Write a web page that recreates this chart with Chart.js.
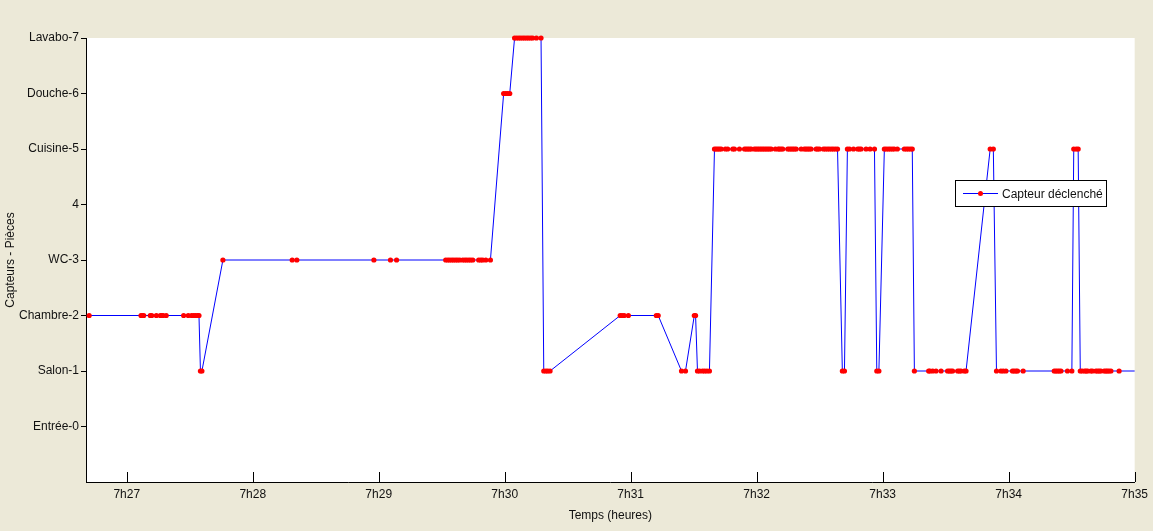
<!DOCTYPE html>
<html><head><meta charset="utf-8">
<script src="https://cdn.jsdelivr.net/npm/chart.js@4"></script>
<style>html,body{margin:0;padding:0;background:#ECE9D8;overflow:hidden}</style>
</head><body>
<canvas id="c" width="1153" height="531"></canvas>
<script>
// Y categories (sensor / room index 0..7)
const roomLabels = ['Entrée-0','Salon-1','Chambre-2','WC-3','4','Cuisine-5','Douche-6','Lavabo-7'];
// X ticks: seconds after 7h00
const xTickSec = [1620,1680,1740,1800,1860,1920,1980,2040,2100];
const xTickLabels = ['7h27','7h28','7h29','7h30','7h31','7h32','7h33','7h34','7h35'];
const seriesName = 'Capteur déclenché';

// Trigger times (seconds after 7h00)
const timeSec = [
  1602.1,1626.8,1627.4,1628.1,1631.2,1631.9,1634.1,1636.0,1636.7,1637.3,1638.8,1647.1,1649.3,1650.9,1651.9,1652.8,1653.8,1654.4,
  1655.1,1655.8,
  1665.8,1698.8,1701.0,1737.7,1745.6,1748.5,1771.9,1772.9,1773.8,1774.8,1775.7,1776.7,1777.6,1778.6,1780.0,1781.0,1781.9,1782.9,1783.8,1784.8,1787.6,1788.6,1789.5,1791.0,1793.2,
  1799.5,1800.5,1801.4,1802.4,
  1804.7,1805.7,1806.7,1807.6,1808.6,1809.5,1810.5,1811.4,1812.4,1813.3,1815.1,1817.3,
  1818.6,1819.6,1820.5,1821.6,
  1855.0,1855.9,1856.9,1858.9,1872.2,1873.1,
  1884.2,1886.1,
  1890.3,1890.9,
  1891.8,1892.8,1894.2,1895.2,1896.3,1897.5,
  1899.9,1900.7,1901.5,1902.3,1903.1,1905.1,1906.2,1908.6,1909.4,1911.8,
  1914.2,1915.0,1915.8,1916.6,1917.4,1918.9,1919.7,1920.5,1921.3,1922.1,
  1922.9,1923.7,1924.5,1925.3,1926.1,1926.9,1928.9,1930.2,1930.8,1931.6,
  1932.4,1934.8,1935.6,1936.4,1937.2,1938.0,1938.8,1941.2,1942.7,1943.5,
  1944.3,1945.1,1945.9,1948.3,1949.0,1949.9,1951.8,1952.7,1953.7,1954.6,
  1955.6,1956.5,1957.5,1958.5,
  1960.8,1961.8,
  1963.2,1964.2,1966.1,1968.1,1968.9,1969.7,1972.1,1974.0,1976.1,
  1977.2,1978.2,
  1980.8,1981.7,1982.7,1983.6,1984.6,1985.5,1987.0,1990.3,1991.3,1992.2,1993.2,1994.1,
  1995.1,2001.9,2002.5,2003.8,2005.4,2007.8,2010.9,2011.7,2012.5,2013.3,2015.7,2016.5,2017.3,2018.9,2019.7,
  2031.2,2032.7,
  2034.2,2036.3,2037.4,2038.7,2041.8,2042.6,2043.5,2044.2,2046.9,2061.7,2062.5,2063.3,2064.1,2064.9,2068.0,2070.1,
  2071.0,2072.2,2073.1,
  2074.1,2075.0,2076.2,2076.9,2077.6,2079.1,2079.9,2081.5,2082.3,2083.1,2083.9,2085.5,2086.3,2087.0,2087.8,2088.7,2092.6,2102.1
];
// Triggered sensor index for each time
const roomIndex = [
  2,2,2,2,2,2,2,2,2,2,2,2,2,2,2,2,2,2,
  1,1,
  3,3,3,3,3,3,3,3,3,3,3,3,3,3,3,3,3,3,3,3,3,3,3,3,3,
  6,6,6,6,
  7,7,7,7,7,7,7,7,7,7,7,7,
  1,1,1,1,
  2,2,2,2,2,2,
  1,1,
  2,2,
  1,1,1,1,1,1,
  5,5,5,5,5,5,5,5,5,5,
  5,5,5,5,5,5,5,5,5,5,
  5,5,5,5,5,5,5,5,5,5,
  5,5,5,5,5,5,5,5,5,5,
  5,5,5,5,5,5,5,5,5,5,
  5,5,5,5,
  1,1,
  5,5,5,5,5,5,5,5,5,
  1,1,
  5,5,5,5,5,5,5,5,5,5,5,5,
  1,1,1,1,1,1,1,1,1,1,1,1,1,1,1,
  5,5,
  1,1,1,1,1,1,1,1,1,1,1,1,1,1,1,1,
  5,5,5,
  1,1,1,1,1,1,1,1,1,1,1,1,1,1,1,1,1,1
];

const points = timeSec.map((t, i) => ({x: t, y: roomIndex[i]}));

const bgPlugin = {
  id: 'bg',
  beforeDraw(chart) {
    const {ctx, chartArea: a} = chart;
    ctx.save();
    ctx.fillStyle = '#ECE9D8';
    ctx.fillRect(0, 0, chart.width, chart.height);
    ctx.fillStyle = '#FFFFFF';
    ctx.fillRect(a.left, a.top, a.right - a.left, a.bottom - a.top);
    ctx.restore();
  }
};

const decoPlugin = {
  id: 'deco',
  afterDraw(chart) {
    const {ctx, chartArea: a, scales} = chart;
    const xs = scales.x;
    ctx.save();
    // inside x ticks
    ctx.strokeStyle = '#000';
    ctx.lineWidth = 1;
    xTickSec.forEach(v => {
      const px = Math.round(xs.getPixelForValue(v)) + 0.5;
      ctx.beginPath();
      ctx.moveTo(px, a.bottom);
      ctx.lineTo(px, a.bottom - 10);
      ctx.stroke();
    });
    // legend box
    const lx = 955.5, ly = 180.5, lw = 151, lh = 26;
    ctx.fillStyle = '#FFFFFF';
    ctx.fillRect(lx, ly, lw, lh);
    ctx.strokeStyle = '#000';
    ctx.strokeRect(lx, ly, lw, lh);
    const cy = ly + lh / 2;
    ctx.strokeStyle = '#0000FF';
    ctx.beginPath();
    ctx.moveTo(963, cy);
    ctx.lineTo(998, cy);
    ctx.stroke();
    ctx.fillStyle = '#FF0000';
    ctx.beginPath();
    ctx.arc(980.5, cy, 2.5, 0, Math.PI * 2);
    ctx.fill();
    ctx.fillStyle = '#111';
    ctx.font = '12px "Liberation Sans", Arial, sans-serif';
    ctx.textBaseline = 'middle';
    ctx.textAlign = 'left';
    ctx.fillText(seriesName, 1002, cy + 1);
    ctx.restore();
  }
};

new Chart(document.getElementById('c'), {
  type: 'line',
  data: {
    datasets: [{
      label: seriesName,
      data: points,
      borderColor: '#0000FF',
      borderWidth: 1,
      backgroundColor: '#FF0000',
      pointBackgroundColor: '#FF0000',
      pointBorderColor: '#FF0000',
      pointBorderWidth: 0,
      pointRadius: 2.6,
      tension: 0,
      clip: {left: 5, top: 5, right: 0, bottom: 5}
    }]
  },
  options: {
    responsive: false,
    animation: false,
    devicePixelRatio: 1,
    layout: {padding: {top: 38, right: 17, left: 0, bottom: 0}},
    plugins: {legend: {display: false}, tooltip: {enabled: false}},
    scales: {
      x: {
        type: 'linear',
        min: 1600.6,
        max: 2100,
        afterFit: s => { s.height = 49; },
        afterBuildTicks: s => { s.ticks = xTickSec.map(v => ({value: v})); },
        grid: {display: true, drawOnChartArea: false, drawTicks: false},
        border: {display: true, color: '#000', width: 1},
        ticks: {
          autoSkip: false, maxRotation: 0, padding: 5,
          color: '#111',
          font: {family: '"Liberation Sans Narrow", "Liberation Sans", Arial, sans-serif', size: 12},
          callback: (v, i) => xTickLabels[i]
        },
        title: {
          display: true, text: 'Temps (heures)', color: '#111',
          font: {family: '"Liberation Sans", Arial, sans-serif', size: 12},
          padding: {top: 0, bottom: 8}
        }
      },
      y: {
        type: 'linear',
        min: -1,
        max: 7,
        afterFit: s => { s.width = 86; },
        afterBuildTicks: s => { s.ticks = roomLabels.map((_, i) => ({value: i})); },
        grid: {display: true, drawOnChartArea: false, drawTicks: true, tickLength: 5, color: '#000'},
        border: {display: true, color: '#000', width: 1},
        ticks: {
          padding: 2,
          color: '#111',
          font: {family: '"Liberation Sans", Arial, sans-serif', size: 12},
          callback: v => roomLabels[v]
        },
        title: {
          display: true, text: 'Capteurs - Pièces', color: '#111',
          font: {family: '"Liberation Sans", Arial, sans-serif', size: 12},
          padding: {top: 3, bottom: 0}
        }
      }
    }
  },
  plugins: [bgPlugin, decoPlugin]
});
</script>
</body></html>
